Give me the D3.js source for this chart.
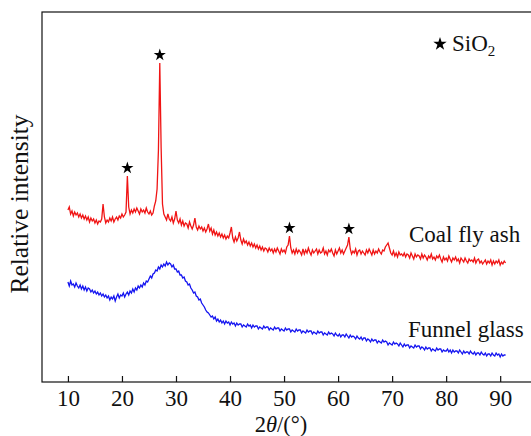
<!DOCTYPE html>
<html><head><meta charset="utf-8">
<script src="https://cdn.jsdelivr.net/npm/d3@7"></script>
<style>
body{margin:0;background:#fff;}
text{font-family:"Liberation Serif","Times New Roman",serif;fill:#111;}
</style></head>
<body><svg id="c" width="531" height="436"></svg>
<script>
// 2θ sampling: 10° to 91° every 0.25°
const thetaStart = 10, thetaStep = 0.25;
const coalFlyAsh = [
190,193,186,189, 184,188,185,187, 183,186,182,185, 181,184,180,183,
178,182,179,181, 177,180,176,179, 178,181,196,183, 177,180,178,182,
179,183,178,181, 183,180,184,182, 186,183,185,188, 224,193,186,190,
187,191,188,192, 189,186,191,188, 190,187,192,188, 186,189,185,187,
194,199,211,250, 337,252,196,186, 183,180,186,181, 179,183,177,181,
189,180,177,181, 175,179,174,177, 176,172,178,174, 171,175,182,173,
170,174,171,173, 169,172,168,171, 176,169,172,166, 170,165,168,164,
167,163,166,162, 165,161,164,162, 167,173,162,158, 163,159,162,168,
160,156,161,157, 159,155,158,154, 157,153,156,152, 155,151,154,150,
153,149,152,151, 148,152,149,151, 147,151,148,152, 149,146,151,148,
150,147,153,155, 164,152,147,150, 146,151,147,150, 148,145,151,146,
150,147,152,148, 145,150,147,149, 151,146,150,147, 148,152,146,149,
145,150,148,151, 147,144,150,146, 149,152,147,150, 146,149,152,155,
163,151,146,149, 147,151,145,149, 150,146,149,147, 145,150,147,151,
148,145,150,146, 149,147,151,148, 146,150,149,153, 155,157,152,147,
145,149,144,147, 143,148,145,146, 144,147,143,146, 145,142,147,144,
141,146,143,145, 144,141,146,142, 145,143,140,144, 142,146,141,143,
140,144,142,145, 141,138,143,140, 142,139,144,141, 138,142,140,143,
139,141,137,142, 140,138,142,139, 137,141,139,140, 138,142,137,140,
141,137,139,136, 138,140,136,139, 137,140,135,139, 136,139,137,140,
135,138,136,139, 137
];
const funnelGlass = [
118,114,119,115, 116,113,117,114, 112,115,111,114, 110,113,109,112,
111,108,110,107, 109,106,108,105, 107,104,106,103, 105,102,104,100,
103,101,104,99, 103,106,102,105, 104,107,103,106, 108,105,109,107,
111,108,112,110, 114,112,115,113, 117,115,119,118, 121,124,122,126,
127,130,129,133, 131,135,133,136, 134,138,135,137, 136,133,135,131,
131,128,129,125, 125,122,123,119, 118,115,116,112, 110,107,108,104,
103,100,101,97, 95,93,90,88, 87,85,83,84, 81,83,79,81,
78,80,77,79, 76,79,77,78, 75,78,76,77, 74,77,75,76,
76,73,75,74, 73,76,74,75, 72,75,73,74, 74,71,73,72,
71,74,72,73, 73,70,72,71, 70,73,71,72, 72,69,71,70,
69,72,70,71, 71,68,70,69, 68,71,69,70, 70,67,69,68,
67,70,68,69, 69,66,68,67, 66,69,67,68, 68,65,67,66,
65,68,66,67, 66,64,67,65, 64,66,63,65, 65,63,66,64,
62,65,63,64, 63,61,64,62, 61,63,60,62, 62,59,61,60,
58,61,59,60, 60,57,59,58, 57,60,58,59, 58,55,57,56,
55,58,56,57, 56,54,57,55, 53,56,54,55, 55,52,54,53,
52,55,53,54, 54,51,53,52, 50,53,51,52, 52,49,51,50,
49,52,50,51, 51,48,50,49, 49,51,48,50, 47,50,48,49,
49,47,50,48, 46,49,47,48, 48,46,49,47, 46,48,45,47,
47,45,48,46, 45,47,44,46, 46,44,47,45, 44,47,45,46,
43,46,44,45, 45
];
const sio2Peaks = [21, 27, 51, 62];
const xTicks = [10, 20, 30, 40, 50, 60, 70, 80, 90];
const seriesNames = ["Coal fly ash", "Funnel glass"];

const svg = d3.select("#c");
const L = 42, T = 12, B = 382;
const x = d3.scaleLinear().domain([5.2, 97]).range([L, 538]);
const y = d3.scaleLinear().domain([18, 388]).range([B, T]);

const toPts = arr => arr.map((v, i) => [thetaStart + i * thetaStep, v]);
const line = d3.line().x(d => x(d[0])).y(d => y(d[1]));

const redPts = toPts(coalFlyAsh), bluePts = toPts(funnelGlass);

svg.append("path").attr("d", line(bluePts)).attr("fill", "none")
  .attr("stroke", "#1414f0").attr("stroke-width", 1.3);
svg.append("path").attr("d", line(redPts)).attr("fill", "none")
  .attr("stroke", "#f01414").attr("stroke-width", 1.3);

// frame
svg.append("rect").attr("x", L).attr("y", T).attr("width", 538 - L).attr("height", B - T)
  .attr("fill", "none").attr("stroke", "#111").attr("stroke-width", 1.2);

// bottom axis with inward ticks
const ax = svg.append("g").attr("transform", `translate(0,${B})`)
  .call(d3.axisBottom(x).tickValues(xTicks).tickSizeInner(-6).tickSizeOuter(0).tickPadding(8));
ax.select(".domain").remove();
ax.selectAll("line").attr("stroke", "#111").attr("stroke-width", 1.2);
ax.selectAll("text").attr("font-size", 23).attr("fill", "#111")
  .attr("font-family", "Liberation Serif, serif");

// stars on SiO2 peaks
const star = d3.symbol().type(d3.symbolStar).size(46);
sio2Peaks.forEach(p => {
  const i = Math.round((p - thetaStart) / thetaStep);
  svg.append("path").attr("d", star())
    .attr("transform", `translate(${x(p)},${y(coalFlyAsh[i]) - 8})`).attr("fill", "#000");
});

// legend
svg.append("path").attr("d", d3.symbol().type(d3.symbolStar).size(56)())
  .attr("transform", "translate(440,44)").attr("fill", "#000");
const lt = svg.append("text").attr("x", 452).attr("y", 51).attr("font-size", 23);
lt.append("tspan").text("SiO");
lt.append("tspan").attr("font-size", 15).attr("dy", 5).text("2");

// series labels
svg.append("text").attr("x", 409).attr("y", 242).attr("font-size", 23).text(seriesNames[0]);
svg.append("text").attr("x", 408).attr("y", 337).attr("font-size", 23).text(seriesNames[1]);

// axis titles
const xt = svg.append("text").attr("x", 281).attr("y", 432).attr("text-anchor", "middle").attr("font-size", 22.5);
xt.append("tspan").text("2");
xt.append("tspan").attr("font-style", "italic").text("θ");
xt.append("tspan").text("/(°)");

svg.append("text").attr("transform", "translate(28,204) rotate(-90)")
  .attr("text-anchor", "middle").attr("font-size", 25.5).text("Relative intensity");
</script></body></html>
